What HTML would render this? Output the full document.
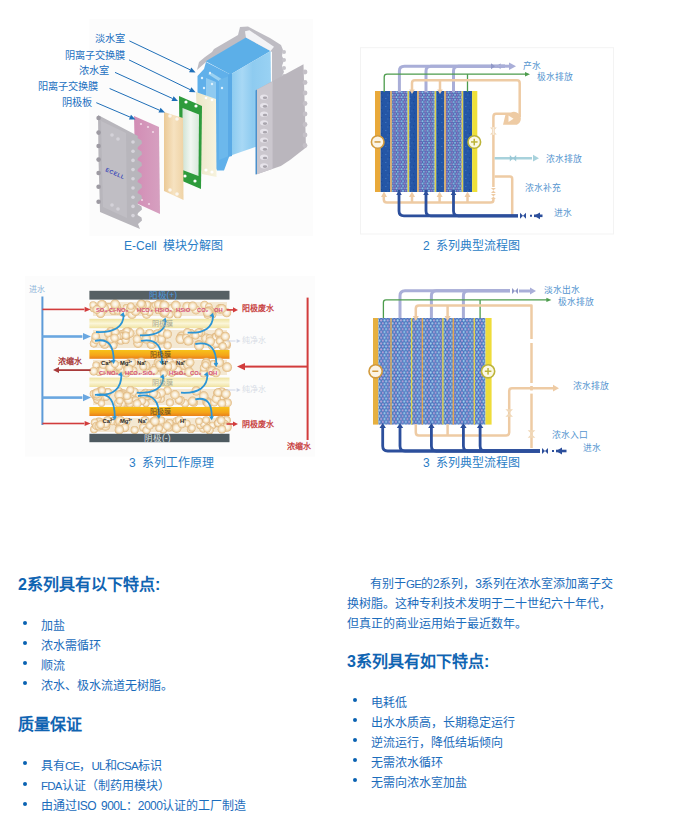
<!DOCTYPE html>
<html lang="zh-CN"><head><meta charset="utf-8">
<style>
html,body{margin:0;padding:0;background:#fff;width:680px;height:832px;overflow:hidden;position:relative;font-family:"Liberation Sans",sans-serif;}
.t{position:absolute;white-space:nowrap;color:#1a6cbc;font-size:12px;line-height:20px;}
.h{position:absolute;white-space:nowrap;color:#0f64b2;font-size:16px;font-weight:bold;line-height:20px;}
.b{position:absolute;width:4px;height:4px;border-radius:50%;background:#0a62b2;}
.cap{position:absolute;white-space:nowrap;color:#2a7dc6;font-size:12px;line-height:14px;}
.lb{position:absolute;white-space:nowrap;color:#1b6fc0;font-size:10.2px;line-height:14px;}
.fl{position:absolute;white-space:nowrap;color:#5595cf;font-size:8.8px;line-height:12px;}
b.n{font-weight:normal;letter-spacing:-0.5px;}
i{font-style:normal;font-size:11.5px;letter-spacing:-0.8px;}
.s{position:absolute;white-space:nowrap;font-size:7px;line-height:8px;}
svg{position:absolute;left:0;top:0;}
</style></head><body>
<svg width="680" height="560" viewBox="0 0 680 560">
<defs>
<linearGradient id="tanG" x1="0" y1="0" x2="1" y2="0"><stop offset="0" stop-color="#ebc996"/><stop offset="0.5" stop-color="#f6e2c0"/><stop offset="1" stop-color="#efd3a6"/></linearGradient>
<linearGradient id="creamG" x1="0" y1="0" x2="1" y2="0"><stop offset="0" stop-color="#ece6c8"/><stop offset="1" stop-color="#f7f3de"/></linearGradient>
<linearGradient id="pinkG" x1="0" y1="0" x2="1" y2="0"><stop offset="0" stop-color="#d28db5"/><stop offset="1" stop-color="#d6a0c0"/></linearGradient>
<linearGradient id="winG" x1="0" y1="0" x2="1" y2="0"><stop offset="0" stop-color="#cfe3d4"/><stop offset="0.5" stop-color="#f2f7f2"/><stop offset="1" stop-color="#d7e8da"/></linearGradient>
<linearGradient id="frontG" x1="0" y1="0" x2="1" y2="0"><stop offset="0" stop-color="#7cc0ee"/><stop offset="1" stop-color="#a9d8f4"/></linearGradient>
<linearGradient id="ymemG" x1="0" y1="0" x2="0" y2="1"><stop offset="0" stop-color="#efe3a0"/><stop offset="0.5" stop-color="#fbf6d8"/><stop offset="1" stop-color="#efe2a0"/></linearGradient>
<linearGradient id="omemG" x1="0" y1="0" x2="0" y2="1"><stop offset="0" stop-color="#f7c21a"/><stop offset="0.6" stop-color="#f5a51a"/><stop offset="1" stop-color="#e9801a"/></linearGradient>
<radialGradient id="bead" cx="0.5" cy="0.5" r="0.5"><stop offset="0" stop-color="#fffdf8"/><stop offset="0.5" stop-color="#f8ecd6"/><stop offset="0.82" stop-color="#ecce9e"/><stop offset="1" stop-color="#dcb27c"/></radialGradient>
<pattern id="mesh" width="5.2" height="4.8" patternUnits="userSpaceOnUse"><rect width="5.2" height="4.8" fill="#4e62b0"/><circle cx="1.3" cy="1.2" r="1.0" fill="#88c8e6"/><circle cx="3.9" cy="1.2" r="0.95" fill="#a48cc8"/><circle cx="2.6" cy="3.6" r="1.0" fill="#80bce0"/><circle cx="0" cy="3.6" r="0.95" fill="#9484c8"/><circle cx="5.2" cy="3.6" r="0.95" fill="#9484c8"/></pattern>
<pattern id="dnoise" width="8" height="8" patternUnits="userSpaceOnUse"><rect width="8" height="8" fill="#2456a6"/><rect x="1" y="2" width="1.5" height="1" fill="#3a70bc"/><rect x="5" y="5" width="1.2" height="1.2" fill="#1a4a98"/><rect x="3" y="6.5" width="1.5" height="1" fill="#3468b4"/><rect x="6" y="0.5" width="1" height="1.4" fill="#1c4c9c"/></pattern>
<pattern id="mesh2" width="6.6" height="5.8" patternUnits="userSpaceOnUse"><rect width="6.6" height="5.8" fill="#4672bc"/><circle cx="1.65" cy="1.45" r="1.1" fill="#a6d6f0"/><circle cx="4.95" cy="1.45" r="1.1" fill="#c0a6d8"/><circle cx="3.3" cy="4.35" r="1.1" fill="#a8d0f0"/><circle cx="0" cy="4.35" r="1.1" fill="#b8a2d8"/><circle cx="6.6" cy="4.35" r="1.1" fill="#b8a2d8"/></pattern>
<filter id="noise" x="0" y="0" width="1" height="1"><feTurbulence type="fractalNoise" baseFrequency="0.9" numOctaves="1" seed="3"/><feColorMatrix values="0 0 0 0 0.1  0 0 0 0 0.3  0 0 0 0 0.7  0 0 0 0.35 0"/><feComposite in2="SourceGraphic" operator="in"/></filter>
</defs>
<rect x="89.5" y="19" width="223.5" height="217" fill="#fcfcfc"/>
<rect x="25" y="276" width="290" height="180.6" fill="#fcfcfc"/>
<rect x="360.5" y="47.7" width="253" height="186.3" fill="none" stroke="#f3f3f3" stroke-width="1"/>
<polygon points="197,70 199,62 205,57 212,52 214,49 238,35 240,27 248,26.6 270,38 281,45 283,50 282,56 284,60 282,66 284,72 280,80 276,88 272,88 272,52 246,38 206,62" fill="#bebcc3" />
<circle cx="284" cy="52" r="2" fill="#c6c4ca"/>
<circle cx="284" cy="60" r="2" fill="#c6c4ca"/>
<circle cx="284" cy="68" r="2" fill="#c6c4ca"/>
<circle cx="284" cy="76" r="2" fill="#c6c4ca"/>
<polygon points="197.5,76 204,69 206,62 230.4,74.6 229.4,156 224,170.5 217,170.5 212,160 200,150 197.5,100" fill="#60b0ea" />
<polygon points="208,74 212,73 228,83 228,87" fill="#9cd2f2" />
<polygon points="206,78 216,82 216,154 206,150" fill="#8fcaf0" />
<polygon points="219,80 229,76 229,156 219,160" fill="#6cb8ec" />
<circle cx="202" cy="78" r="1.2" fill="#dff0fb"/>
<circle cx="210" cy="73" r="1.2" fill="#dff0fb"/>
<circle cx="204" cy="88" r="1.2" fill="#dff0fb"/>
<circle cx="212" cy="84" r="1.2" fill="#dff0fb"/>
<circle cx="222" cy="88" r="1.2" fill="#dff0fb"/>
<polygon points="205.7,61.2 245.9,37.5 270.6,50.9 230.4,74.6" fill="#5cafe8" />
<polygon points="245,31.3 249.5,30.3 274,46.8 270.6,50.9 245.9,37.5" fill="#f3f3f6" />
<linearGradient id="ffG" x1="0" y1="0" x2="1" y2="0"><stop offset="0" stop-color="#86c8ef"/><stop offset="0.3" stop-color="#a8d8f5"/><stop offset="0.55" stop-color="#8ecbf0"/><stop offset="1" stop-color="#9ad2f3"/></linearGradient>
<polygon points="230.4,74.6 270.6,50.9 271.6,141.5 229.4,155.9" fill="url(#ffG)" />
<polygon points="228,75 232,73 232,156 228,157" fill="#5aaae6" />
<polygon points="256.2,90 303.5,64.3 306,147.6 290,160 280.9,166 256.2,174.4" fill="#bab6bd" />
<polygon points="256.2,90 272.6,81.5 272.6,168.8 256.2,174.4" fill="#cbc7ce" />
<polygon points="255.5,90.5 257,89.5 257,174 255.5,174.5" fill="#4a90cc" />
<ellipse cx="264" cy="97" rx="4" ry="2.6" fill="#e6e3ea"/><ellipse cx="265" cy="97.8" rx="2.2" ry="1.3" fill="#a9a5ad"/>
<ellipse cx="264" cy="105.6" rx="4" ry="2.6" fill="#e6e3ea"/><ellipse cx="265" cy="106.4" rx="2.2" ry="1.3" fill="#a9a5ad"/>
<ellipse cx="264" cy="114.2" rx="4" ry="2.6" fill="#e6e3ea"/><ellipse cx="265" cy="115" rx="2.2" ry="1.3" fill="#a9a5ad"/>
<ellipse cx="264" cy="122.8" rx="4" ry="2.6" fill="#e6e3ea"/><ellipse cx="265" cy="123.6" rx="2.2" ry="1.3" fill="#a9a5ad"/>
<ellipse cx="264" cy="131.4" rx="4" ry="2.6" fill="#e6e3ea"/><ellipse cx="265" cy="132.2" rx="2.2" ry="1.3" fill="#a9a5ad"/>
<ellipse cx="264" cy="140" rx="4" ry="2.6" fill="#e6e3ea"/><ellipse cx="265" cy="140.8" rx="2.2" ry="1.3" fill="#a9a5ad"/>
<ellipse cx="264" cy="148.6" rx="4" ry="2.6" fill="#e6e3ea"/><ellipse cx="265" cy="149.4" rx="2.2" ry="1.3" fill="#a9a5ad"/>
<ellipse cx="264" cy="157.2" rx="4" ry="2.6" fill="#e6e3ea"/><ellipse cx="265" cy="158" rx="2.2" ry="1.3" fill="#a9a5ad"/>
<ellipse cx="264" cy="165.8" rx="4" ry="2.6" fill="#e6e3ea"/><ellipse cx="265" cy="166.6" rx="2.2" ry="1.3" fill="#a9a5ad"/>
<circle cx="305" cy="72" r="2.4" fill="#c4c0c7"/>
<circle cx="305" cy="82.5" r="2.4" fill="#c4c0c7"/>
<circle cx="305" cy="93" r="2.4" fill="#c4c0c7"/>
<circle cx="305" cy="103.5" r="2.4" fill="#c4c0c7"/>
<circle cx="305" cy="114" r="2.4" fill="#c4c0c7"/>
<circle cx="305" cy="124.5" r="2.4" fill="#c4c0c7"/>
<circle cx="305" cy="135" r="2.4" fill="#c4c0c7"/>
<circle cx="305" cy="145.5" r="2.4" fill="#c4c0c7"/>
<polygon points="196,92 216,99 216.5,177 202,174 198,150" fill="url(#creamG)" />
<circle cx="206" cy="98" r="1.3" fill="#fff"/><circle cx="212" cy="100" r="1.3" fill="#fff"/><circle cx="206" cy="170" r="1.6" fill="#fff"/><circle cx="212" cy="172" r="1.6" fill="#fff"/>
<polygon points="179,96 202,106 201,189 180,180" fill="#2e9b3c" />
<polygon points="182.5,108 199,114.5 198.5,176 182.5,170" fill="url(#winG)" />
<circle cx="186" cy="102" r="1.6" fill="#fff"/><circle cx="196" cy="106" r="1.6" fill="#fff"/><circle cx="185" cy="176" r="1.6" fill="#fff"/><circle cx="195" cy="181" r="1.6" fill="#fff"/>
<polygon points="164,112 183,118 183.5,200 164,191" fill="url(#tanG)" />
<circle cx="170" cy="116" r="1.8" fill="#fbf6ee"/><circle cx="177" cy="119" r="1.8" fill="#fbf6ee"/><circle cx="170" cy="190" r="1.8" fill="#fbf6ee"/><circle cx="177" cy="194" r="1.8" fill="#fbf6ee"/>
<polygon points="134,116 159,127 160,214 136,203" fill="url(#pinkG)" />
<circle cx="141" cy="124" r="1.1" fill="#f0d8e6"/>
<circle cx="148" cy="127" r="1.1" fill="#f0d8e6"/>
<circle cx="153" cy="132" r="1.1" fill="#f0d8e6"/>
<circle cx="142" cy="200" r="1.1" fill="#f0d8e6"/>
<circle cx="149" cy="204" r="1.1" fill="#f0d8e6"/>
<polygon points="98,115 138,136 137.5,138 141.5,140.5 142,143.5 138,147 137.5,149 141.5,151.5 142,154.5 138,158 137.5,160 141.5,162.5 142,165.5 138,169 137.5,171 141.5,173.5 142,176.5 138,180 137.5,182 141.5,184.5 142,187.5 138,191 137.5,193 141.5,195.5 142,198.5 138,202 137.5,204 141.5,206.5 142,209.5 138,213 137.5,215 141.5,217.5 142,220.5 138,224 140,229 100,212 98.5,160" fill="#b8b6bc" />
<circle cx="98.6" cy="118" r="2.3" fill="#9d9aa2"/>
<circle cx="98.6" cy="132.6" r="2.3" fill="#9d9aa2"/>
<circle cx="98.6" cy="146" r="2.3" fill="#9d9aa2"/>
<circle cx="98.6" cy="159.6" r="2.3" fill="#9d9aa2"/>
<circle cx="98.6" cy="173" r="2.3" fill="#9d9aa2"/>
<circle cx="98.6" cy="186.7" r="2.3" fill="#9d9aa2"/>
<circle cx="98.6" cy="201.7" r="2.3" fill="#9d9aa2"/>
<polygon points="101,121 126,133 127,218 103,207" fill="#c0bec4" />
<circle cx="133" cy="142" r="1.8" fill="#d7d5dc"/>
<circle cx="133" cy="151.2" r="1.8" fill="#d7d5dc"/>
<circle cx="133" cy="160.4" r="1.8" fill="#d7d5dc"/>
<circle cx="133" cy="169.6" r="1.8" fill="#d7d5dc"/>
<circle cx="133" cy="178.8" r="1.8" fill="#d7d5dc"/>
<circle cx="133" cy="188" r="1.8" fill="#d7d5dc"/>
<circle cx="133" cy="197.2" r="1.8" fill="#d7d5dc"/>
<circle cx="133" cy="206.4" r="1.8" fill="#d7d5dc"/>
<circle cx="133" cy="215.6" r="1.8" fill="#d7d5dc"/>
<circle cx="112" cy="135" r="1.8" fill="#d4d2d9"/>
<circle cx="118" cy="139" r="1.8" fill="#d4d2d9"/>
<circle cx="112" cy="205" r="1.8" fill="#d4d2d9"/>
<circle cx="118" cy="209" r="1.8" fill="#d4d2d9"/>
<text x="105" y="171" transform="rotate(24 105 171)" font-size="5.5" font-weight="bold" fill="#3a48b8" font-family="Liberation Sans" letter-spacing="0.5">ECELL</text>
<line x1="129.4" y1="40.9" x2="190.182" y2="69.822" stroke="#1f6fb8" stroke-width="1"/>
<polygon points="195.6,72.4 189.065,72.1698 191.299,67.4742" fill="#1f6fb8" />
<line x1="129" y1="59.9" x2="190.205" y2="89.6752" stroke="#1f6fb8" stroke-width="1"/>
<polygon points="195.6,92.3 189.067,92.0132 191.342,87.3372" fill="#1f6fb8" />
<line x1="115" y1="72.4" x2="172.537" y2="98.5198" stroke="#1f6fb8" stroke-width="1"/>
<polygon points="178,101 171.462,100.887 173.611,96.1523" fill="#1f6fb8" />
<line x1="109.6" y1="88.5" x2="159.498" y2="110.207" stroke="#1f6fb8" stroke-width="1"/>
<polygon points="165,112.6 158.461,112.591 160.535,107.822" fill="#1f6fb8" />
<line x1="96.3" y1="102.7" x2="129.98" y2="117.048" stroke="#1f6fb8" stroke-width="1"/>
<polygon points="135.5,119.4 128.961,119.44 130.999,114.656" fill="#1f6fb8" />
<rect x="375" y="91" width="5.6" height="101" fill="#e9a93a"/>
<rect x="380.6" y="91" width="9.7" height="101" fill="url(#dnoise)"/>
<rect x="391.4" y="91" width="16.2" height="101" fill="url(#mesh)"/>
<rect x="409.3" y="91" width="8" height="101" fill="url(#dnoise)"/>
<rect x="418.4" y="91" width="16.3" height="101" fill="url(#mesh)"/>
<rect x="436.2" y="91" width="8.2" height="101" fill="url(#dnoise)"/>
<rect x="445.5" y="91" width="16.2" height="101" fill="url(#mesh)"/>
<rect x="463.2" y="91" width="8.9" height="101" fill="url(#dnoise)"/>
<rect x="390.3" y="91" width="1.4" height="101" fill="#e2a64a"/>
<rect x="407.6" y="91" width="1.4" height="101" fill="#d8d04a"/>
<rect x="417.3" y="91" width="1.4" height="101" fill="#e2a64a"/>
<rect x="434.7" y="91" width="1.4" height="101" fill="#d8d04a"/>
<rect x="444.4" y="91" width="1.4" height="101" fill="#e2a64a"/>
<rect x="461.7" y="91" width="1.4" height="101" fill="#d8d04a"/>
<rect x="472.1" y="91" width="5.2" height="101" fill="#eee03a"/>
<path d="M399.4,92 V71 Q399.4,66.2 404.4,66.2 H505" fill="none" stroke="#a9aed8" stroke-width="3" stroke-linejoin="round"/>
<path d="M426,92 V71 Q426,66.2 431,66.2 H505" fill="none" stroke="#a9aed8" stroke-width="3" stroke-linejoin="round"/>
<path d="M453.5,92 V71 Q453.5,66.2 458.5,66.2 H505" fill="none" stroke="#a9aed8" stroke-width="3" stroke-linejoin="round"/>
<polygon points="495,66.2 491,69.2 491,63.2" fill="#9098c8" />
<polygon points="497.5,66.2 500.5,63.2 500.5,69.2" fill="#9098c8" />
<path d="M498,66.2 H510" fill="none" stroke="#a9aed8" stroke-width="3" stroke-linejoin="round"/>
<polygon points="516,66.2 509,70 509,62.4" fill="#a9aed8" />
<path d="M384.2,92 V77 Q384.2,74.2 387,74.2 H525" fill="none" stroke="#4c9c4c" stroke-width="1.3" stroke-linejoin="round"/>
<path d="M467.5,92 V74.2" fill="none" stroke="#4c9c4c" stroke-width="1.3" stroke-linejoin="round"/>
<polygon points="530,74.2 525,76.4 525,72" fill="#4c9c4c" />
<path d="M412,90 V83 Q412,80.3 415,80.3 H517 Q519.7,80.3 519.7,83 V117" fill="none" stroke="#eecba4" stroke-width="2.5" stroke-linejoin="round"/>
<path d="M440,90 V80.3" fill="none" stroke="#eecba4" stroke-width="2.5" stroke-linejoin="round"/>
<polygon points="412,94 409.2,89.5 414.8,89.5" fill="#eecba4" />
<polygon points="440,94 437.2,89.5 442.8,89.5" fill="#eecba4" />
<path d="M506,112.5 H511 A6.2,6.2 0 0 1 517,124.8 H503 Z" fill="#eecba4"/>
<polygon points="508.5,115.5 508.5,122 513.5,118.8" fill="#fffaf4" />
<path d="M506,113.8 H496 Q493.4,113.8 493.4,117 V200 Q493.4,202.6 490.4,202.6 H386.8 Q383.8,202.6 383.8,199.6 V196" fill="none" stroke="#eecba4" stroke-width="2.5" stroke-linejoin="round"/>
<path d="M412,202.6 V196" fill="none" stroke="#eecba4" stroke-width="2.5" stroke-linejoin="round"/>
<path d="M439.6,202.6 V196" fill="none" stroke="#eecba4" stroke-width="2.5" stroke-linejoin="round"/>
<path d="M467.5,202.6 V196" fill="none" stroke="#eecba4" stroke-width="2.5" stroke-linejoin="round"/>
<polygon points="384,191.5 387,197 381,197" fill="#eecba4" />
<polygon points="412,191.5 415,197 409,197" fill="#eecba4" />
<polygon points="439.6,191.5 442.6,197 436.6,197" fill="#eecba4" />
<polygon points="467.5,191.5 470.5,197 464.5,197" fill="#eecba4" />
<polygon points="490,127.6 493.4,131 496.8,127.6" fill="#f0d8b8" /><polygon points="490,134.4 493.4,131 496.8,134.4" fill="#f0d8b8" />
<rect x="492.6" y="127" width="1.6" height="8" fill="#fff" opacity="0.5"/>
<rect x="490" y="187" width="7" height="12" fill="#fff"/>
<polygon points="491,188.1 493.4,190.5 495.8,188.1" fill="#eecba4" /><polygon points="491,192.9 493.4,190.5 495.8,192.9" fill="#eecba4" />
<polygon points="491,194.1 493.4,196.5 495.8,194.1" fill="#eecba4" /><polygon points="491,198.9 493.4,196.5 495.8,198.9" fill="#eecba4" />
<path d="M494.6,158.2 H532" fill="none" stroke="#a8d2dc" stroke-width="2.5" stroke-linejoin="round"/>
<polygon points="509.8,155 513,158.2 509.8,161.4" fill="#9ac8d6" /><polygon points="516.2,155 513,158.2 516.2,161.4" fill="#9ac8d6" />
<polygon points="539,158.2 533,161.6 533,154.8" fill="#a8d2dc" />
<path d="M494.6,176.5 H510 Q512.2,176.5 512.2,179 V215" fill="none" stroke="#eecba4" stroke-width="2.5" stroke-linejoin="round"/>
<path d="M399,190 V211 Q399,215.8 404,215.8 H518" fill="none" stroke="#2c4f9c" stroke-width="2.8" stroke-linejoin="round"/>
<path d="M426,190 V211 Q426,215.8 431,215.8 H518" fill="none" stroke="#2c4f9c" stroke-width="2.8" stroke-linejoin="round"/>
<path d="M453.5,190 V211 Q453.5,215.8 458.5,215.8 H518" fill="none" stroke="#2c4f9c" stroke-width="2.8" stroke-linejoin="round"/>
<polygon points="520,212.8 523,215.8 520,218.8" fill="#2c4f9c" /><polygon points="526,212.8 523,215.8 526,218.8" fill="#2c4f9c" />
<path d="M530,215.8 H532" fill="none" stroke="#2c4f9c" stroke-width="2" stroke-linejoin="round"/>
<polygon points="534,215.8 540,212.4 540,219.2" fill="#2c4f9c" />
<path d="M534,215.8 H542.5" fill="none" stroke="#2c4f9c" stroke-width="2.6" stroke-linejoin="round"/>
<polygon points="399,190.5 401.8,195 396.2,195" fill="#2c4f9c" />
<polygon points="426,190.5 428.8,195 423.2,195" fill="#2c4f9c" />
<polygon points="453.5,190.5 456.3,195 450.7,195" fill="#2c4f9c" />
<circle cx="377.7" cy="142" r="6.3" fill="#fbf4e6" stroke="#d29a3c" stroke-width="1.6"/><rect x="374.5" y="141.2" width="6" height="1.5" fill="#d29a3c"/>
<circle cx="474.3" cy="142" r="6.3" fill="#fbf8e6" stroke="#bdb43a" stroke-width="1.6"/><rect x="471" y="141.2" width="6.6" height="1.5" fill="#bdb43a"/><rect x="473.5" y="138.8" width="1.5" height="6.6" fill="#bdb43a"/>
<rect x="373" y="318" width="5.4" height="106.6" fill="#e6b040"/>
<rect x="378.4" y="318" width="107.1" height="106.6" fill="url(#mesh2)"/>
<rect x="390.3" y="318" width="1.4" height="106.6" fill="#e0a850"/>
<rect x="410.9" y="318" width="1.4" height="106.6" fill="#ded04a"/>
<rect x="421.7" y="318" width="1.4" height="106.6" fill="#e0a850"/>
<rect x="442.2" y="318" width="1.4" height="106.6" fill="#ded04a"/>
<rect x="452.6" y="318" width="1.4" height="106.6" fill="#e0a850"/>
<rect x="473.6" y="318" width="1.4" height="106.6" fill="#ded04a"/>
<rect x="485.5" y="318" width="6.1" height="106.6" fill="#eedc3a"/>
<path d="M400,318 V295.8 Q400,290.8 405,290.8 H510" fill="none" stroke="#a9aed8" stroke-width="3" stroke-linejoin="round"/>
<path d="M431.4,318 V295.8 Q431.4,290.8 436.4,290.8 H510" fill="none" stroke="#a9aed8" stroke-width="3" stroke-linejoin="round"/>
<path d="M463.4,318 V295.8 Q463.4,290.8 468.4,290.8 H510" fill="none" stroke="#a9aed8" stroke-width="3" stroke-linejoin="round"/>
<polygon points="512,288 515,291 512,294" fill="#9098c8" /><polygon points="518,288 515,291 518,294" fill="#9098c8" />
<path d="M519,291 H531" fill="none" stroke="#a9aed8" stroke-width="3" stroke-linejoin="round"/>
<polygon points="536,291 530,294.6 530,287.4" fill="#a9aed8" />
<path d="M383.4,318 V302.5 Q383.4,299.9 386,299.9 H547" fill="none" stroke="#4c9c4c" stroke-width="1.3" stroke-linejoin="round"/>
<path d="M480.1,318 V299.9" fill="none" stroke="#4c9c4c" stroke-width="1.3" stroke-linejoin="round"/>
<polygon points="551.4,299.9 546.4,302.1 546.4,297.7" fill="#4c9c4c" />
<path d="M415.8,316 V308.5 Q415.8,305.5 418.8,305.5 H531.5 V448" fill="none" stroke="#eecba4" stroke-width="2.5" stroke-linejoin="round"/>
<path d="M447.6,316 V305.5" fill="none" stroke="#eecba4" stroke-width="2.5" stroke-linejoin="round"/>
<polygon points="415.8,321 412.8,316 418.8,316" fill="#eecba4" />
<polygon points="447.6,321 444.6,316 450.6,316" fill="#eecba4" />
<path d="M415.8,424 V432.4 Q415.8,435.4 418.8,435.4 H506.2 Q509.2,435.4 509.2,432.4 V391 Q509.2,388.2 512,388.2 H553" fill="none" stroke="#eecba4" stroke-width="2.5" stroke-linejoin="round"/>
<path d="M447.6,424 V435.4" fill="none" stroke="#eecba4" stroke-width="2.5" stroke-linejoin="round"/>
<polygon points="559,388.2 553,391.6 553,384.8" fill="#eecba4" />
<rect x="529" y="339" width="5" height="4" fill="#fff"/><rect x="529" y="383" width="5" height="3.6" fill="#fff"/><rect x="529" y="390" width="5" height="3.6" fill="#fff"/>
<path d="M531.5,386 V390.5" fill="none" stroke="#eecba4" stroke-width="2.5" stroke-linejoin="round"/>
<polygon points="505.4,409.2 509.2,413 513,409.2" fill="#f0d8b8" /><polygon points="505.4,416.8 509.2,413 513,416.8" fill="#f0d8b8" />
<polygon points="527.7,430.2 531.5,434 535.3,430.2" fill="#f0d8b8" /><polygon points="527.7,437.8 531.5,434 535.3,437.8" fill="#f0d8b8" />
<path d="M382.7,426 V446 Q382.7,451 387.7,451 H540" fill="none" stroke="#2c4f9c" stroke-width="2.8" stroke-linejoin="round"/>
<polygon points="382.7,423 385.9,428 379.5,428" fill="#2c4f9c" />
<path d="M400,426 V446 Q400,451 405,451 H540" fill="none" stroke="#2c4f9c" stroke-width="2.8" stroke-linejoin="round"/>
<polygon points="400,423 403.2,428 396.8,428" fill="#2c4f9c" />
<path d="M431.4,426 V446 Q431.4,451 436.4,451 H540" fill="none" stroke="#2c4f9c" stroke-width="2.8" stroke-linejoin="round"/>
<polygon points="431.4,423 434.6,428 428.2,428" fill="#2c4f9c" />
<path d="M463.4,426 V446 Q463.4,451 468.4,451 H540" fill="none" stroke="#2c4f9c" stroke-width="2.8" stroke-linejoin="round"/>
<polygon points="463.4,423 466.6,428 460.2,428" fill="#2c4f9c" />
<path d="M480.1,426 V446 Q480.1,451 485.1,451 H540" fill="none" stroke="#2c4f9c" stroke-width="2.8" stroke-linejoin="round"/>
<polygon points="480.1,423 483.3,428 476.9,428" fill="#2c4f9c" />
<polygon points="542,448 545,451 542,454" fill="#2c4f9c" /><polygon points="548,448 545,451 548,454" fill="#2c4f9c" />
<path d="M552,451 H554" fill="none" stroke="#2c4f9c" stroke-width="2" stroke-linejoin="round"/>
<polygon points="556,451 562,447.6 562,454.4" fill="#2c4f9c" />
<path d="M556,451 H566.5" fill="none" stroke="#2c4f9c" stroke-width="2.6" stroke-linejoin="round"/>
<circle cx="375.6" cy="371.3" r="6.6" fill="#fbf4e6" stroke="#d29a3c" stroke-width="1.6"/><rect x="372.3" y="370.5" width="6" height="1.5" fill="#d29a3c"/>
<circle cx="488.1" cy="371.3" r="6.6" fill="#fbf8e6" stroke="#bdb43a" stroke-width="1.6"/><rect x="484.8" y="370.5" width="6.6" height="1.5" fill="#bdb43a"/><rect x="487.3" y="368" width="1.5" height="6.6" fill="#bdb43a"/>
<rect x="93" y="302" width="134" height="14" fill="#f4e8d2"/>
<circle cx="113.5" cy="310.9" r="4.1" fill="url(#bead)"/><circle cx="165.3" cy="307.5" r="3.7" fill="url(#bead)"/><circle cx="161.5" cy="303.5" r="3.7" fill="url(#bead)"/><circle cx="102.7" cy="304.5" r="4.2" fill="url(#bead)"/><circle cx="204.5" cy="304.9" r="4.2" fill="url(#bead)"/><circle cx="177.7" cy="314.4" r="3.9" fill="url(#bead)"/><circle cx="146.6" cy="314.5" r="4.4" fill="url(#bead)"/><circle cx="208.8" cy="306.6" r="3.7" fill="url(#bead)"/><circle cx="109.0" cy="306.9" r="3.8" fill="url(#bead)"/><circle cx="117.7" cy="310.0" r="4.7" fill="url(#bead)"/><circle cx="143.4" cy="309.7" r="4.5" fill="url(#bead)"/><circle cx="101.1" cy="305.6" r="3.7" fill="url(#bead)"/><circle cx="150.8" cy="307.1" r="4.6" fill="url(#bead)"/><circle cx="154.2" cy="306.9" r="4.4" fill="url(#bead)"/><circle cx="187.2" cy="306.4" r="4.7" fill="url(#bead)"/><circle cx="163.9" cy="313.3" r="4.4" fill="url(#bead)"/><circle cx="132.0" cy="314.4" r="4.6" fill="url(#bead)"/><circle cx="149.5" cy="312.2" r="3.8" fill="url(#bead)"/><circle cx="159.0" cy="303.6" r="3.8" fill="url(#bead)"/><circle cx="196.0" cy="309.9" r="4.5" fill="url(#bead)"/><circle cx="135.5" cy="311.2" r="4.8" fill="url(#bead)"/><circle cx="171.2" cy="308.7" r="4.4" fill="url(#bead)"/><circle cx="220.1" cy="308.9" r="4.8" fill="url(#bead)"/><circle cx="101.5" cy="311.4" r="4.5" fill="url(#bead)"/><circle cx="226.7" cy="312.7" r="4.5" fill="url(#bead)"/><circle cx="145.1" cy="311.1" r="4.0" fill="url(#bead)"/><circle cx="155.3" cy="305.1" r="3.6" fill="url(#bead)"/><circle cx="101.1" cy="312.4" r="3.8" fill="url(#bead)"/><circle cx="126.5" cy="307.8" r="3.8" fill="url(#bead)"/><circle cx="104.3" cy="308.6" r="4.8" fill="url(#bead)"/><circle cx="212.0" cy="312.7" r="4.4" fill="url(#bead)"/><circle cx="130.8" cy="308.3" r="4.8" fill="url(#bead)"/><circle cx="212.2" cy="314.4" r="4.1" fill="url(#bead)"/><circle cx="116.9" cy="305.9" r="3.8" fill="url(#bead)"/><circle cx="158.5" cy="310.2" r="3.9" fill="url(#bead)"/><circle cx="93.7" cy="308.2" r="4.0" fill="url(#bead)"/><circle cx="169.4" cy="314.4" r="4.1" fill="url(#bead)"/><circle cx="162.6" cy="310.4" r="4.6" fill="url(#bead)"/><circle cx="100.6" cy="313.5" r="4.5" fill="url(#bead)"/><circle cx="210.8" cy="312.3" r="4.7" fill="url(#bead)"/><circle cx="146.9" cy="304.6" r="4.1" fill="url(#bead)"/><circle cx="101.7" cy="304.4" r="4.5" fill="url(#bead)"/><circle cx="115.0" cy="307.3" r="3.9" fill="url(#bead)"/><circle cx="93.1" cy="304.9" r="3.7" fill="url(#bead)"/><circle cx="142.1" cy="303.4" r="3.7" fill="url(#bead)"/><circle cx="175.8" cy="305.4" r="4.8" fill="url(#bead)"/><circle cx="140.0" cy="307.6" r="4.0" fill="url(#bead)"/><circle cx="207.5" cy="315.1" r="3.8" fill="url(#bead)"/><circle cx="158.3" cy="304.5" r="4.3" fill="url(#bead)"/><circle cx="139.3" cy="306.3" r="3.7" fill="url(#bead)"/><circle cx="115.1" cy="304.1" r="4.8" fill="url(#bead)"/><circle cx="164.3" cy="305.5" r="4.9" fill="url(#bead)"/><circle cx="96.9" cy="309.5" r="4.4" fill="url(#bead)"/><circle cx="209.2" cy="311.2" r="5.0" fill="url(#bead)"/><circle cx="142.6" cy="305.2" r="4.0" fill="url(#bead)"/><circle cx="164.9" cy="312.1" r="4.7" fill="url(#bead)"/><circle cx="123.2" cy="312.8" r="4.1" fill="url(#bead)"/><circle cx="207.8" cy="312.3" r="5.0" fill="url(#bead)"/><circle cx="192.7" cy="306.2" r="4.7" fill="url(#bead)"/><circle cx="141.1" cy="303.9" r="4.3" fill="url(#bead)"/><circle cx="130.8" cy="306.2" r="3.6" fill="url(#bead)"/><circle cx="221.8" cy="308.6" r="4.6" fill="url(#bead)"/>
<rect x="89.4" y="318.8" width="140.1" height="9.4" fill="url(#ymemG)"/>
<rect x="93" y="330" width="134" height="18" fill="#f4e8d2"/>
<circle cx="225.9" cy="345.4" r="4.9" fill="url(#bead)"/><circle cx="122.9" cy="334.4" r="4.1" fill="url(#bead)"/><circle cx="120.7" cy="340.7" r="3.9" fill="url(#bead)"/><circle cx="206.1" cy="338.4" r="4.9" fill="url(#bead)"/><circle cx="200.7" cy="332.4" r="4.5" fill="url(#bead)"/><circle cx="215.5" cy="343.0" r="4.5" fill="url(#bead)"/><circle cx="157.6" cy="333.9" r="4.7" fill="url(#bead)"/><circle cx="138.0" cy="343.2" r="4.7" fill="url(#bead)"/><circle cx="146.5" cy="337.3" r="5.0" fill="url(#bead)"/><circle cx="190.6" cy="333.9" r="4.9" fill="url(#bead)"/><circle cx="113.5" cy="345.3" r="3.8" fill="url(#bead)"/><circle cx="113.0" cy="343.6" r="4.7" fill="url(#bead)"/><circle cx="181.6" cy="336.6" r="5.0" fill="url(#bead)"/><circle cx="110.9" cy="331.3" r="4.4" fill="url(#bead)"/><circle cx="180.6" cy="339.1" r="5.0" fill="url(#bead)"/><circle cx="151.6" cy="344.2" r="4.9" fill="url(#bead)"/><circle cx="121.7" cy="335.1" r="4.8" fill="url(#bead)"/><circle cx="125.6" cy="340.1" r="4.0" fill="url(#bead)"/><circle cx="149.6" cy="332.9" r="4.0" fill="url(#bead)"/><circle cx="140.9" cy="338.1" r="4.9" fill="url(#bead)"/><circle cx="214.8" cy="337.5" r="4.4" fill="url(#bead)"/><circle cx="160.7" cy="339.2" r="4.9" fill="url(#bead)"/><circle cx="95.8" cy="337.8" r="4.3" fill="url(#bead)"/><circle cx="93.7" cy="343.6" r="3.9" fill="url(#bead)"/><circle cx="156.9" cy="342.4" r="3.8" fill="url(#bead)"/><circle cx="137.1" cy="339.0" r="4.4" fill="url(#bead)"/><circle cx="198.7" cy="332.7" r="4.4" fill="url(#bead)"/><circle cx="126.7" cy="335.3" r="4.4" fill="url(#bead)"/><circle cx="161.5" cy="339.7" r="4.7" fill="url(#bead)"/><circle cx="215.9" cy="337.9" r="4.7" fill="url(#bead)"/><circle cx="161.2" cy="338.9" r="4.5" fill="url(#bead)"/><circle cx="154.1" cy="339.3" r="4.6" fill="url(#bead)"/><circle cx="219.9" cy="341.8" r="4.3" fill="url(#bead)"/><circle cx="219.8" cy="335.2" r="4.8" fill="url(#bead)"/><circle cx="220.1" cy="344.0" r="4.4" fill="url(#bead)"/><circle cx="109.5" cy="337.8" r="3.8" fill="url(#bead)"/><circle cx="125.5" cy="331.8" r="3.7" fill="url(#bead)"/><circle cx="198.6" cy="344.8" r="4.5" fill="url(#bead)"/><circle cx="189.6" cy="341.3" r="3.8" fill="url(#bead)"/><circle cx="212.1" cy="346.3" r="3.8" fill="url(#bead)"/><circle cx="221.4" cy="337.1" r="3.9" fill="url(#bead)"/><circle cx="226.4" cy="343.9" r="4.3" fill="url(#bead)"/><circle cx="151.3" cy="339.0" r="3.8" fill="url(#bead)"/><circle cx="119.6" cy="335.9" r="4.1" fill="url(#bead)"/><circle cx="96.0" cy="339.6" r="4.6" fill="url(#bead)"/><circle cx="95.7" cy="336.1" r="4.2" fill="url(#bead)"/><circle cx="162.1" cy="332.1" r="4.5" fill="url(#bead)"/><circle cx="199.1" cy="345.6" r="5.0" fill="url(#bead)"/><circle cx="128.9" cy="331.3" r="3.7" fill="url(#bead)"/><circle cx="129.7" cy="333.2" r="4.7" fill="url(#bead)"/><circle cx="215.8" cy="343.7" r="4.2" fill="url(#bead)"/><circle cx="113.3" cy="345.4" r="4.0" fill="url(#bead)"/><circle cx="187.4" cy="332.5" r="4.4" fill="url(#bead)"/><circle cx="185.9" cy="337.5" r="3.7" fill="url(#bead)"/><circle cx="219.6" cy="340.9" r="3.7" fill="url(#bead)"/><circle cx="104.7" cy="344.1" r="4.7" fill="url(#bead)"/><circle cx="209.4" cy="338.0" r="3.7" fill="url(#bead)"/><circle cx="167.6" cy="345.5" r="4.1" fill="url(#bead)"/><circle cx="110.6" cy="339.2" r="4.0" fill="url(#bead)"/><circle cx="107.9" cy="333.3" r="3.9" fill="url(#bead)"/><circle cx="120.3" cy="335.7" r="3.7" fill="url(#bead)"/><circle cx="195.4" cy="335.4" r="4.0" fill="url(#bead)"/><circle cx="117.2" cy="336.4" r="4.3" fill="url(#bead)"/><circle cx="126.9" cy="330.8" r="3.6" fill="url(#bead)"/><circle cx="167.4" cy="334.1" r="4.6" fill="url(#bead)"/><circle cx="218.9" cy="332.6" r="4.3" fill="url(#bead)"/><circle cx="151.4" cy="338.7" r="4.7" fill="url(#bead)"/><circle cx="146.2" cy="338.8" r="4.8" fill="url(#bead)"/><circle cx="225.3" cy="336.4" r="4.6" fill="url(#bead)"/><circle cx="188.2" cy="340.8" r="4.8" fill="url(#bead)"/><circle cx="140.0" cy="331.8" r="4.2" fill="url(#bead)"/><circle cx="102.7" cy="342.7" r="3.8" fill="url(#bead)"/><circle cx="115.2" cy="332.1" r="4.0" fill="url(#bead)"/><circle cx="210.2" cy="341.3" r="4.8" fill="url(#bead)"/><circle cx="125.8" cy="335.5" r="4.0" fill="url(#bead)"/><circle cx="114.5" cy="337.9" r="4.2" fill="url(#bead)"/><circle cx="222.7" cy="346.3" r="4.0" fill="url(#bead)"/>
<rect x="89.4" y="350" width="140.1" height="8.8" fill="url(#omemG)"/>
<rect x="93" y="360" width="134" height="15" fill="#f4e8d2"/>
<circle cx="126.2" cy="373.1" r="4.4" fill="url(#bead)"/><circle cx="141.2" cy="361.6" r="4.0" fill="url(#bead)"/><circle cx="157.1" cy="367.7" r="4.1" fill="url(#bead)"/><circle cx="161.1" cy="361.6" r="3.9" fill="url(#bead)"/><circle cx="105.3" cy="366.5" r="4.0" fill="url(#bead)"/><circle cx="96.1" cy="365.2" r="3.7" fill="url(#bead)"/><circle cx="172.0" cy="368.1" r="3.9" fill="url(#bead)"/><circle cx="181.6" cy="370.1" r="4.7" fill="url(#bead)"/><circle cx="145.7" cy="365.8" r="4.8" fill="url(#bead)"/><circle cx="113.5" cy="370.1" r="5.0" fill="url(#bead)"/><circle cx="99.2" cy="371.6" r="4.5" fill="url(#bead)"/><circle cx="177.6" cy="370.3" r="4.8" fill="url(#bead)"/><circle cx="112.1" cy="368.0" r="4.7" fill="url(#bead)"/><circle cx="205.5" cy="371.3" r="4.3" fill="url(#bead)"/><circle cx="171.8" cy="372.1" r="4.8" fill="url(#bead)"/><circle cx="186.5" cy="364.6" r="4.6" fill="url(#bead)"/><circle cx="111.0" cy="365.9" r="3.6" fill="url(#bead)"/><circle cx="205.8" cy="368.4" r="3.7" fill="url(#bead)"/><circle cx="177.5" cy="369.8" r="4.5" fill="url(#bead)"/><circle cx="93.7" cy="371.2" r="4.3" fill="url(#bead)"/><circle cx="160.9" cy="368.1" r="4.6" fill="url(#bead)"/><circle cx="102.2" cy="370.4" r="4.5" fill="url(#bead)"/><circle cx="103.2" cy="364.8" r="4.0" fill="url(#bead)"/><circle cx="120.9" cy="370.4" r="4.6" fill="url(#bead)"/><circle cx="159.7" cy="366.4" r="5.0" fill="url(#bead)"/><circle cx="185.2" cy="370.9" r="4.3" fill="url(#bead)"/><circle cx="179.7" cy="362.8" r="4.5" fill="url(#bead)"/><circle cx="127.4" cy="370.7" r="3.8" fill="url(#bead)"/><circle cx="169.6" cy="361.8" r="4.0" fill="url(#bead)"/><circle cx="129.3" cy="369.9" r="3.7" fill="url(#bead)"/><circle cx="184.1" cy="365.3" r="4.6" fill="url(#bead)"/><circle cx="155.8" cy="367.3" r="4.3" fill="url(#bead)"/><circle cx="213.5" cy="363.9" r="3.8" fill="url(#bead)"/><circle cx="219.0" cy="362.5" r="5.0" fill="url(#bead)"/><circle cx="203.5" cy="373.3" r="4.2" fill="url(#bead)"/><circle cx="129.4" cy="364.3" r="4.2" fill="url(#bead)"/><circle cx="121.7" cy="368.6" r="4.9" fill="url(#bead)"/><circle cx="163.7" cy="373.4" r="3.8" fill="url(#bead)"/><circle cx="203.6" cy="367.8" r="3.8" fill="url(#bead)"/><circle cx="187.8" cy="364.7" r="4.8" fill="url(#bead)"/><circle cx="158.6" cy="362.5" r="4.9" fill="url(#bead)"/><circle cx="159.4" cy="367.1" r="3.6" fill="url(#bead)"/><circle cx="112.1" cy="365.8" r="4.0" fill="url(#bead)"/><circle cx="206.3" cy="361.7" r="4.0" fill="url(#bead)"/><circle cx="206.0" cy="363.4" r="4.7" fill="url(#bead)"/><circle cx="189.1" cy="372.1" r="4.9" fill="url(#bead)"/><circle cx="143.3" cy="366.4" r="4.0" fill="url(#bead)"/><circle cx="172.4" cy="366.2" r="5.0" fill="url(#bead)"/><circle cx="130.3" cy="362.3" r="4.2" fill="url(#bead)"/><circle cx="205.6" cy="365.0" r="3.7" fill="url(#bead)"/><circle cx="126.9" cy="365.1" r="4.9" fill="url(#bead)"/><circle cx="118.8" cy="366.2" r="4.3" fill="url(#bead)"/><circle cx="212.0" cy="371.1" r="4.9" fill="url(#bead)"/><circle cx="216.0" cy="372.8" r="4.5" fill="url(#bead)"/><circle cx="190.0" cy="362.4" r="4.4" fill="url(#bead)"/><circle cx="153.9" cy="370.6" r="4.6" fill="url(#bead)"/><circle cx="131.8" cy="362.5" r="4.5" fill="url(#bead)"/><circle cx="110.5" cy="367.4" r="4.9" fill="url(#bead)"/><circle cx="133.3" cy="370.6" r="4.1" fill="url(#bead)"/><circle cx="128.4" cy="369.4" r="5.0" fill="url(#bead)"/><circle cx="168.2" cy="366.4" r="4.0" fill="url(#bead)"/><circle cx="114.9" cy="364.1" r="3.8" fill="url(#bead)"/><circle cx="160.1" cy="364.6" r="4.9" fill="url(#bead)"/><circle cx="227.1" cy="367.2" r="4.9" fill="url(#bead)"/>
<rect x="89.4" y="377.6" width="140.1" height="9.4" fill="url(#ymemG)"/>
<rect x="93" y="389" width="134" height="16" fill="#f4e8d2"/>
<circle cx="119.1" cy="391.0" r="3.8" fill="url(#bead)"/><circle cx="105.5" cy="393.3" r="4.1" fill="url(#bead)"/><circle cx="169.9" cy="402.6" r="4.0" fill="url(#bead)"/><circle cx="148.8" cy="395.8" r="4.6" fill="url(#bead)"/><circle cx="144.0" cy="394.7" r="4.3" fill="url(#bead)"/><circle cx="130.5" cy="403.9" r="3.7" fill="url(#bead)"/><circle cx="161.0" cy="398.9" r="3.8" fill="url(#bead)"/><circle cx="122.4" cy="394.0" r="4.8" fill="url(#bead)"/><circle cx="147.0" cy="396.2" r="3.9" fill="url(#bead)"/><circle cx="207.2" cy="401.9" r="4.9" fill="url(#bead)"/><circle cx="97.4" cy="400.1" r="3.6" fill="url(#bead)"/><circle cx="156.9" cy="398.2" r="4.9" fill="url(#bead)"/><circle cx="145.9" cy="403.4" r="3.6" fill="url(#bead)"/><circle cx="208.2" cy="403.3" r="4.8" fill="url(#bead)"/><circle cx="107.9" cy="392.0" r="3.9" fill="url(#bead)"/><circle cx="185.0" cy="403.2" r="4.3" fill="url(#bead)"/><circle cx="180.3" cy="400.6" r="4.6" fill="url(#bead)"/><circle cx="167.4" cy="390.5" r="4.2" fill="url(#bead)"/><circle cx="124.6" cy="402.6" r="4.7" fill="url(#bead)"/><circle cx="134.1" cy="391.9" r="4.5" fill="url(#bead)"/><circle cx="178.8" cy="399.9" r="4.0" fill="url(#bead)"/><circle cx="102.6" cy="397.4" r="3.8" fill="url(#bead)"/><circle cx="145.5" cy="393.2" r="4.4" fill="url(#bead)"/><circle cx="94.7" cy="394.3" r="4.4" fill="url(#bead)"/><circle cx="222.2" cy="399.0" r="4.2" fill="url(#bead)"/><circle cx="157.2" cy="393.5" r="4.8" fill="url(#bead)"/><circle cx="222.5" cy="400.0" r="3.9" fill="url(#bead)"/><circle cx="96.1" cy="397.0" r="4.0" fill="url(#bead)"/><circle cx="149.8" cy="393.7" r="4.5" fill="url(#bead)"/><circle cx="217.6" cy="393.3" r="4.5" fill="url(#bead)"/><circle cx="138.7" cy="395.8" r="3.6" fill="url(#bead)"/><circle cx="120.0" cy="401.0" r="4.6" fill="url(#bead)"/><circle cx="161.2" cy="393.0" r="4.6" fill="url(#bead)"/><circle cx="135.3" cy="401.2" r="5.0" fill="url(#bead)"/><circle cx="123.0" cy="400.8" r="3.9" fill="url(#bead)"/><circle cx="221.3" cy="396.9" r="4.0" fill="url(#bead)"/><circle cx="123.2" cy="395.8" r="3.9" fill="url(#bead)"/><circle cx="220.8" cy="392.2" r="4.5" fill="url(#bead)"/><circle cx="121.9" cy="403.7" r="4.2" fill="url(#bead)"/><circle cx="100.1" cy="390.5" r="3.8" fill="url(#bead)"/><circle cx="214.1" cy="402.4" r="4.2" fill="url(#bead)"/><circle cx="227.3" cy="402.8" r="4.6" fill="url(#bead)"/><circle cx="118.2" cy="403.2" r="4.1" fill="url(#bead)"/><circle cx="97.7" cy="399.2" r="4.6" fill="url(#bead)"/><circle cx="143.5" cy="394.6" r="4.1" fill="url(#bead)"/><circle cx="93.5" cy="393.8" r="3.8" fill="url(#bead)"/><circle cx="221.8" cy="391.6" r="4.1" fill="url(#bead)"/><circle cx="121.3" cy="395.1" r="4.9" fill="url(#bead)"/><circle cx="203.7" cy="396.1" r="4.8" fill="url(#bead)"/><circle cx="156.9" cy="395.1" r="3.7" fill="url(#bead)"/><circle cx="119.3" cy="395.2" r="4.9" fill="url(#bead)"/><circle cx="97.5" cy="395.8" r="4.9" fill="url(#bead)"/><circle cx="196.3" cy="390.9" r="4.7" fill="url(#bead)"/><circle cx="101.5" cy="403.3" r="3.6" fill="url(#bead)"/><circle cx="193.8" cy="402.8" r="4.0" fill="url(#bead)"/><circle cx="129.9" cy="403.5" r="4.1" fill="url(#bead)"/><circle cx="128.6" cy="400.0" r="4.5" fill="url(#bead)"/><circle cx="130.3" cy="389.9" r="4.0" fill="url(#bead)"/><circle cx="216.4" cy="398.8" r="4.7" fill="url(#bead)"/><circle cx="96.7" cy="393.5" r="4.9" fill="url(#bead)"/><circle cx="221.9" cy="403.4" r="4.3" fill="url(#bead)"/><circle cx="127.0" cy="396.0" r="4.1" fill="url(#bead)"/><circle cx="218.0" cy="392.6" r="4.3" fill="url(#bead)"/><circle cx="192.5" cy="401.3" r="4.7" fill="url(#bead)"/><circle cx="174.9" cy="394.7" r="4.7" fill="url(#bead)"/><circle cx="141.9" cy="401.0" r="4.0" fill="url(#bead)"/><circle cx="119.7" cy="400.7" r="3.7" fill="url(#bead)"/><circle cx="101.9" cy="390.3" r="3.9" fill="url(#bead)"/><circle cx="137.1" cy="403.7" r="4.4" fill="url(#bead)"/><circle cx="225.9" cy="393.9" r="4.8" fill="url(#bead)"/><circle cx="106.1" cy="397.0" r="3.7" fill="url(#bead)"/><circle cx="153.4" cy="393.4" r="4.6" fill="url(#bead)"/>
<rect x="89.4" y="407" width="140.1" height="9" fill="url(#omemG)"/>
<rect x="93" y="418" width="134" height="14" fill="#f4e8d2"/>
<circle cx="176.7" cy="426.6" r="4.2" fill="url(#bead)"/><circle cx="207.1" cy="426.4" r="4.6" fill="url(#bead)"/><circle cx="206.4" cy="422.1" r="3.8" fill="url(#bead)"/><circle cx="143.4" cy="427.2" r="4.4" fill="url(#bead)"/><circle cx="126.5" cy="421.6" r="3.9" fill="url(#bead)"/><circle cx="212.3" cy="425.5" r="3.8" fill="url(#bead)"/><circle cx="146.5" cy="430.3" r="4.1" fill="url(#bead)"/><circle cx="124.4" cy="428.0" r="4.3" fill="url(#bead)"/><circle cx="226.4" cy="420.3" r="4.5" fill="url(#bead)"/><circle cx="203.4" cy="428.4" r="4.3" fill="url(#bead)"/><circle cx="98.9" cy="422.5" r="4.9" fill="url(#bead)"/><circle cx="118.7" cy="430.2" r="3.8" fill="url(#bead)"/><circle cx="218.3" cy="423.2" r="4.4" fill="url(#bead)"/><circle cx="153.7" cy="422.1" r="4.8" fill="url(#bead)"/><circle cx="220.3" cy="420.4" r="4.7" fill="url(#bead)"/><circle cx="176.6" cy="421.5" r="4.4" fill="url(#bead)"/><circle cx="112.3" cy="421.2" r="4.1" fill="url(#bead)"/><circle cx="173.9" cy="426.4" r="4.0" fill="url(#bead)"/><circle cx="94.7" cy="422.6" r="3.9" fill="url(#bead)"/><circle cx="118.2" cy="422.6" r="4.5" fill="url(#bead)"/><circle cx="200.3" cy="425.2" r="3.9" fill="url(#bead)"/><circle cx="106.8" cy="423.3" r="3.7" fill="url(#bead)"/><circle cx="179.2" cy="420.1" r="4.4" fill="url(#bead)"/><circle cx="186.8" cy="423.5" r="3.8" fill="url(#bead)"/><circle cx="134.6" cy="429.9" r="4.0" fill="url(#bead)"/><circle cx="169.5" cy="423.0" r="4.0" fill="url(#bead)"/><circle cx="209.5" cy="430.2" r="4.2" fill="url(#bead)"/><circle cx="119.8" cy="427.2" r="4.1" fill="url(#bead)"/><circle cx="94.0" cy="429.3" r="3.9" fill="url(#bead)"/><circle cx="203.6" cy="423.5" r="4.2" fill="url(#bead)"/><circle cx="155.3" cy="421.1" r="4.8" fill="url(#bead)"/><circle cx="167.5" cy="426.3" r="3.6" fill="url(#bead)"/><circle cx="105.4" cy="425.9" r="4.9" fill="url(#bead)"/><circle cx="161.1" cy="420.6" r="4.1" fill="url(#bead)"/><circle cx="163.3" cy="429.5" r="4.0" fill="url(#bead)"/><circle cx="159.2" cy="428.2" r="3.8" fill="url(#bead)"/><circle cx="119.9" cy="420.8" r="5.0" fill="url(#bead)"/><circle cx="224.2" cy="424.4" r="4.9" fill="url(#bead)"/><circle cx="217.9" cy="423.2" r="3.7" fill="url(#bead)"/><circle cx="176.6" cy="428.0" r="4.9" fill="url(#bead)"/><circle cx="199.0" cy="421.3" r="3.8" fill="url(#bead)"/><circle cx="207.1" cy="428.3" r="4.2" fill="url(#bead)"/><circle cx="122.5" cy="423.4" r="3.9" fill="url(#bead)"/><circle cx="144.9" cy="420.4" r="4.3" fill="url(#bead)"/><circle cx="190.8" cy="429.2" r="3.9" fill="url(#bead)"/><circle cx="168.9" cy="427.7" r="3.7" fill="url(#bead)"/><circle cx="206.1" cy="420.0" r="3.7" fill="url(#bead)"/><circle cx="167.2" cy="426.0" r="4.4" fill="url(#bead)"/><circle cx="149.7" cy="425.6" r="4.0" fill="url(#bead)"/><circle cx="181.9" cy="424.0" r="4.2" fill="url(#bead)"/><circle cx="96.4" cy="425.9" r="4.2" fill="url(#bead)"/><circle cx="124.9" cy="427.6" r="4.3" fill="url(#bead)"/><circle cx="154.9" cy="421.2" r="4.7" fill="url(#bead)"/><circle cx="107.7" cy="420.4" r="4.3" fill="url(#bead)"/><circle cx="105.6" cy="423.9" r="4.2" fill="url(#bead)"/><circle cx="98.8" cy="426.1" r="4.3" fill="url(#bead)"/><circle cx="192.0" cy="427.9" r="3.7" fill="url(#bead)"/><circle cx="100.6" cy="424.6" r="4.3" fill="url(#bead)"/><circle cx="221.2" cy="420.4" r="4.1" fill="url(#bead)"/><circle cx="227.0" cy="427.0" r="4.8" fill="url(#bead)"/><circle cx="119.4" cy="429.7" r="4.7" fill="url(#bead)"/><circle cx="221.9" cy="429.3" r="4.3" fill="url(#bead)"/>
<rect x="89.4" y="290.8" width="140.1" height="8.8" fill="#566064"/>
<rect x="89.4" y="433.8" width="140.1" height="8.4" fill="#4e5a60"/>
<rect x="41.4" y="296.5" width="2" height="128.5" fill="#5d9bd8"/>
<rect x="42.4" y="308.6" width="42" height="1.6" fill="#d23c3c"/>
<polygon points="90.6,309.4 84.6,312 84.6,306.8" fill="#d23c3c" />
<rect x="42.4" y="422.7" width="42" height="1.6" fill="#d23c3c"/>
<polygon points="90.6,423.5 84.6,426.1 84.6,420.9" fill="#d23c3c" />
<rect x="42.4" y="335.2" width="40" height="2.6" fill="#6aa7e0"/>
<polygon points="91,336.5 83,340.1 83,332.9" fill="#6aa7e0" />
<rect x="42.4" y="396.3" width="40" height="2.6" fill="#6aa7e0"/>
<polygon points="91,397.6 83,401.2 83,394" fill="#6aa7e0" />
<rect x="58" y="369.2" width="32.6" height="1.8" fill="#a83a3a"/>
<polygon points="53,370 59,367 59,373" fill="#a83a3a" />
<rect x="226.5" y="309.1" width="7" height="1.6" fill="#d23c3c"/>
<polygon points="238,309.9 233,312.5 233,307.3" fill="#d23c3c" />
<rect x="226.5" y="423.2" width="7" height="1.6" fill="#d23c3c"/>
<polygon points="238,424 233,426.6 233,421.4" fill="#d23c3c" />
<rect x="226.5" y="340.5" width="9" height="1" fill="#cfd6e6"/>
<polygon points="240.6,341 236.6,343 236.6,339" fill="#cfd6e6" />
<rect x="226.5" y="389.5" width="9" height="1" fill="#cfd6e6"/>
<polygon points="240.6,390 236.6,392 236.6,388" fill="#cfd6e6" />
<rect x="306.6" y="297.6" width="2" height="142.4" fill="#d23c3c"/>
<rect x="242" y="365.6" width="65" height="2" fill="#d23c3c"/>
<polygon points="237,366.6 245,363 245,370.2" fill="#d23c3c" />
<path d="M96,332 C115.32,333 123.6,326 123.6,315" fill="none" stroke="#2b95d6" stroke-width="1.8"/><polygon points="123.6,312 124.8,316.72 120,315.28" fill="#2b95d6" />
<path d="M95,340.8 C109.96,337.8 113.7,347.76 113.7,361" fill="none" stroke="#2b95d6" stroke-width="1.8"/><polygon points="113.7,364 110.9,360.24 115.7,359.76" fill="#2b95d6" />
<path d="M140,335.3 C157.85,336.3 165.5,329.99 165.5,320.6" fill="none" stroke="#2b95d6" stroke-width="1.8"/><polygon points="165.5,317.6 166.7,322.32 161.9,320.88" fill="#2b95d6" />
<path d="M141,340.8 C157.8,337.8 162,348.06 162,362" fill="none" stroke="#2b95d6" stroke-width="1.8"/><polygon points="162,365 159.2,361.24 164,360.76" fill="#2b95d6" />
<path d="M187.6,332.6 C205.38,333.6 213,326.66 213,315.8" fill="none" stroke="#2b95d6" stroke-width="1.8"/><polygon points="213,312.8 214.2,317.52 209.4,316.08" fill="#2b95d6" />
<path d="M195.3,344 C212.1,341 216.3,350.9 216.3,364" fill="none" stroke="#2b95d6" stroke-width="1.8"/><polygon points="216.3,367 213.5,363.24 218.3,362.76" fill="#2b95d6" />
<path d="M97,394.9 C114.08,395.9 121.4,387.94 121.4,374.7" fill="none" stroke="#2b95d6" stroke-width="1.8"/><polygon points="121.4,371.7 122.6,376.42 117.8,374.98" fill="#2b95d6" />
<path d="M95,394.9 C110.84,391.9 114.8,402.49 114.8,417.2" fill="none" stroke="#2b95d6" stroke-width="1.8"/><polygon points="114.8,420.2 112,416.44 116.8,415.96" fill="#2b95d6" />
<path d="M136.8,392.7 C155.35,393.7 163.3,387.09 163.3,377" fill="none" stroke="#2b95d6" stroke-width="1.8"/><polygon points="163.3,374 164.5,378.72 159.7,377.28" fill="#2b95d6" />
<path d="M138,396 C154.8,393 159,402.9 159,416" fill="none" stroke="#2b95d6" stroke-width="1.8"/><polygon points="159,419 156.2,415.24 161,414.76" fill="#2b95d6" />
<path d="M181,392.7 C199.48,393.7 207.4,386.4 207.4,374.7" fill="none" stroke="#2b95d6" stroke-width="1.8"/><polygon points="207.4,371.7 208.6,376.42 203.8,374.98" fill="#2b95d6" />
<path d="M195.3,399.3 C208.5,396.3 211.8,405.57 211.8,417.2" fill="none" stroke="#2b95d6" stroke-width="1.8"/><polygon points="211.8,420.2 209,416.44 213.8,415.96" fill="#2b95d6" />
</svg>
<div class="lb" style="left:94.5px;top:32.2px">淡水室</div>
<div class="lb" style="left:64.5px;top:48.8px">阴离子交换膜</div>
<div class="lb" style="left:78.8px;top:64.2px">浓水室</div>
<div class="lb" style="left:37.5px;top:79.7px">阳离子交换膜</div>
<div class="lb" style="left:62.1px;top:96.2px">阴极板</div>
<div class="fl" style="left:522.5px;top:59.6px">产水</div>
<div class="fl" style="left:537px;top:70.6px">极水排放</div>
<div class="fl" style="left:546.3px;top:153.2px">浓水排放</div>
<div class="fl" style="left:524.7px;top:182.4px">浓水补充</div>
<div class="fl" style="left:553.9px;top:207.3px">进水</div>
<div class="fl" style="left:544px;top:284.4px">淡水出水</div>
<div class="fl" style="left:557.8px;top:296.3px">极水排放</div>
<div class="fl" style="left:572.5px;top:380px">浓水排放</div>
<div class="fl" style="left:552px;top:428.7px">浓水入口</div>
<div class="fl" style="left:583.3px;top:442.3px">进水</div>
<div class="s" style="left:29px;top:286px;color:#8fb4da;font-size:8px">进水</div>
<div class="s" style="left:148.5px;top:291px;color:#4a9ae0;font-size:8.5px;line-height:9px">阳极(+)</div>
<div class="s" style="left:144px;top:434px;color:#dde2e6;font-size:8.5px;line-height:9px">阴极(-)</div>
<div class="s" style="left:152px;top:319.5px;color:#a8a890;font-size:7px">阴极膜</div>
<div class="s" style="left:150px;top:350.5px;color:#6a4a1a;font-size:7px">阳极膜</div>
<div class="s" style="left:152px;top:378.5px;color:#a8a890;font-size:7px">阴极膜</div>
<div class="s" style="left:150px;top:407.5px;color:#6a4a1a;font-size:7px">阳极膜</div>
<svg width="680" height="560" style="position:absolute;left:0;top:0"><text x="96" y="311.5" font-size="5.8" font-weight="bold" fill="#d4507a" font-family="Liberation Sans">SO₄·Cl·NO₃</text><text x="137" y="311.5" font-size="5.8" font-weight="bold" fill="#d4507a" font-family="Liberation Sans">HCO₃</text><text x="155" y="311.5" font-size="5.8" font-weight="bold" fill="#d4507a" font-family="Liberation Sans">HSiO₃</text><text x="176" y="311.5" font-size="5.8" font-weight="bold" fill="#d4507a" font-family="Liberation Sans">HSiO</text><text x="197" y="311.5" font-size="5.8" font-weight="bold" fill="#d4507a" font-family="Liberation Sans">CO₂</text><text x="214" y="311.5" font-size="5.8" font-weight="bold" fill="#d4507a" font-family="Liberation Sans">OH</text><text x="101" y="364.5" font-size="5.8" font-weight="bold" fill="#2a2a2a" font-family="Liberation Sans">Ca²⁺</text><text x="120" y="364.5" font-size="5.8" font-weight="bold" fill="#2a2a2a" font-family="Liberation Sans">Mg²⁺</text><text x="137" y="364.5" font-size="5.8" font-weight="bold" fill="#2a2a2a" font-family="Liberation Sans">Na⁺</text><text x="162" y="364.5" font-size="5.8" font-weight="bold" fill="#2a2a2a" font-family="Liberation Sans">H⁺</text><text x="176" y="364.5" font-size="5.8" font-weight="bold" fill="#2a2a2a" font-family="Liberation Sans">Na⁺</text><text x="99" y="374.5" font-size="5.8" font-weight="bold" fill="#d4507a" font-family="Liberation Sans">Cl·NO₃</text><text x="125" y="374.5" font-size="5.8" font-weight="bold" fill="#d4507a" font-family="Liberation Sans">HCO₃·SiO₂</text><text x="169" y="374.5" font-size="5.8" font-weight="bold" fill="#d4507a" font-family="Liberation Sans">HSiO₃</text><text x="190" y="374.5" font-size="5.8" font-weight="bold" fill="#d4507a" font-family="Liberation Sans">CO₂</text><text x="208.5" y="374.5" font-size="5.8" font-weight="bold" fill="#d4507a" font-family="Liberation Sans">OH</text><text x="102.6" y="422.5" font-size="5.8" font-weight="bold" fill="#2a2a2a" font-family="Liberation Sans">Ca²⁺</text><text x="120" y="422.5" font-size="5.8" font-weight="bold" fill="#2a2a2a" font-family="Liberation Sans">Mg²⁺</text><text x="138" y="422.5" font-size="5.8" font-weight="bold" fill="#2a2a2a" font-family="Liberation Sans">Na⁺</text><text x="180" y="422.5" font-size="5.8" font-weight="bold" fill="#2a2a2a" font-family="Liberation Sans">H⁺</text></svg>
<div class="s" style="left:241.8px;top:305px;color:#c84444;font-size:8px;font-weight:bold">阳极废水</div>
<div class="s" style="left:241.8px;top:420.5px;color:#c84444;font-size:8px;font-weight:bold">阴极废水</div>
<div class="s" style="left:241.8px;top:336.5px;color:#d8dce6;font-size:8px">纯净水</div>
<div class="s" style="left:241.8px;top:385.5px;color:#d8dce6;font-size:8px">纯净水</div>
<div class="s" style="left:57.6px;top:358px;color:#a83a3a;font-size:8px;font-weight:bold">浓缩水</div>
<div class="s" style="left:286.5px;top:443px;color:#c84444;font-size:8px;font-weight:bold">浓缩水</div>
<div class="cap" style="left:124px;top:239px">E-Cell&nbsp; 模块分解图</div>
<div class="cap" style="left:423px;top:239px">2&nbsp; 系列典型流程图</div>
<div class="cap" style="left:129px;top:456px">3&nbsp; 系列工作原理</div>
<div class="cap" style="left:423px;top:456px">3&nbsp; 系列典型流程图</div>
<div class="h" style="left:18px;top:575px">2系列具有以下特点:</div>
<div class="b" style="left:23px;top:621px"></div><div class="t" style="left:41px;top:616px">加盐</div>
<div class="b" style="left:23px;top:641px"></div><div class="t" style="left:41px;top:636px">浓水需循环</div>
<div class="b" style="left:23px;top:661px"></div><div class="t" style="left:41px;top:656px">顺流</div>
<div class="b" style="left:23px;top:681px"></div><div class="t" style="left:41px;top:676px">浓水、极水流道无树脂。</div>
<div class="h" style="left:18px;top:715px">质量保证</div>
<div class="b" style="left:23px;top:761px"></div><div class="t" style="left:41px;top:756px">具有<i>CE</i>，<i>UL</i>和<i>CSA</i>标识</div>
<div class="b" style="left:23px;top:782px"></div><div class="t" style="left:41px;top:776px"><i>FDA</i>认证（制药用模块）</div>
<div class="b" style="left:23px;top:802px"></div><div class="t" style="left:41px;top:796px">由通过<b class="n" style="word-spacing:2px">ISO 900L</b>：<b class="n">2000</b>认证的工厂制造</div>
<div class="t" style="left:370px;top:573.5px">有别于<i>GE</i>的<b class="n">2</b>系列，<b class="n">3</b>系列在浓水室添加离子交</div>
<div class="t" style="left:347px;top:593.5px">换树脂。这种专利技术发明于二十世纪六十年代，</div>
<div class="t" style="left:347px;top:613.5px">但真正的商业运用始于最近数年。</div>
<div class="h" style="left:347px;top:652px">3系列具有如下特点:</div>
<div class="b" style="left:353px;top:698px"></div><div class="t" style="left:371px;top:693px">电耗低</div>
<div class="b" style="left:353px;top:718px"></div><div class="t" style="left:371px;top:713px">出水水质高，长期稳定运行</div>
<div class="b" style="left:353px;top:738px"></div><div class="t" style="left:371px;top:733px">逆流运行，降低结垢倾向</div>
<div class="b" style="left:353px;top:758px"></div><div class="t" style="left:371px;top:753px">无需浓水循环</div>
<div class="b" style="left:353px;top:778px"></div><div class="t" style="left:371px;top:773px">无需向浓水室加盐</div>
</body></html>
